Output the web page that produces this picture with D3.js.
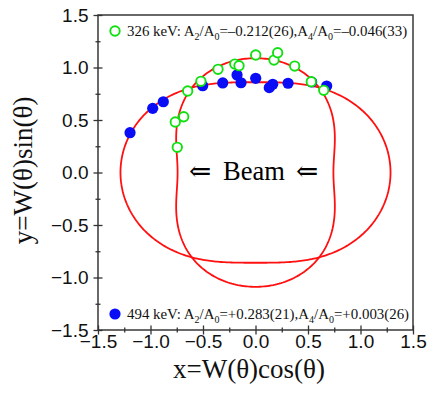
<!DOCTYPE html>
<html><head><meta charset="utf-8">
<script src="https://cdn.jsdelivr.net/npm/d3@7"></script>
<style>body{margin:0;background:#fff}</style>
</head><body><svg id="chart" width="429" height="399"></svg>
<script>
// Axis ticks
const majorTicks = [-1.5, -1.0, -0.5, 0.0, 0.5, 1.0, 1.5];
const minorTicks = [-1.25, -0.75, -0.25, 0.25, 0.75, 1.25];

// Angular-distribution fit coefficients W(θ) = 1 + A2 P2(cosθ) + A4 P4(cosθ)
const fitNames = ["326 keV", "494 keV"];
const fitA2 = [-0.212, 0.283];
const fitA4 = [-0.046, 0.003];
const fitA2Text = ["–0.212(26)", "+0.283(21)"];
const fitA4Text = ["–0.046(33)", "+0.003(26)"];

// Measured points, x = W cosθ, y = W sinθ
const pts326X = [-0.745, -0.764, -0.684, -0.646, -0.52, -0.357, -0.197, -0.157, 0.002, 0.176, 0.211, 0.373, 0.531, 0.65];
const pts326Y = [0.24, 0.481, 0.531, 0.776, 0.868, 0.983, 1.033, 1.017, 1.119, 1.071, 1.141, 1.014, 0.865, 0.783];
const pts494X = [-1.195, -0.979, -0.878, -0.503, -0.312, -0.176, -0.138, 0.002, 0.131, 0.164, 0.31, 0.535, 0.678];
const pts494Y = [0.379, 0.611, 0.674, 0.826, 0.853, 0.929, 0.855, 0.897, 0.808, 0.84, 0.85, 0.862, 0.824];

const svg = d3.select("#chart");
const L = 98, R = 413, T = 15, B = 330;
const x = d3.scaleLinear().domain([-1.5, 1.5]).range([L, R]);
const y = d3.scaleLinear().domain([-1.5, 1.5]).range([B, T]);

const sansFont = "'Liberation Sans', Arial, sans-serif";
const serifFont = "'Liberation Serif', 'DejaVu Serif', serif";

// Frame
svg.append("rect").attr("x", L).attr("y", T).attr("width", R - L).attr("height", B - T)
  .attr("fill", "none").attr("stroke", "#444").attr("stroke-width", 1.6);

// Axes with ticks crossing the frame line
const fmt = d3.format(".1f");
const gx = svg.append("g").attr("transform", `translate(0,${B})`)
  .call(d3.axisBottom(x).tickValues(majorTicks).tickFormat(fmt).tickSize(4.5));
const gxm = svg.append("g").attr("transform", `translate(0,${B})`)
  .call(d3.axisBottom(x).tickValues(minorTicks).tickFormat("").tickSize(2.5));
const gy = svg.append("g").attr("transform", `translate(${L},0)`)
  .call(d3.axisLeft(y).tickValues(majorTicks).tickFormat(fmt).tickSize(4.5).tickPadding(5));
const gym = svg.append("g").attr("transform", `translate(${L},0)`)
  .call(d3.axisLeft(y).tickValues(minorTicks).tickFormat("").tickSize(2.5));

[gx, gxm, gy, gym].forEach(g => {
  g.select(".domain").remove();
  g.selectAll(".tick line").attr("stroke", "#333").attr("stroke-width", 1.3);
  g.selectAll("text").attr("font-family", sansFont).attr("font-size", 19).attr("fill", "#111");
});
gx.selectAll("text").attr("y", 18).attr("dy", 0);
gx.selectAll(".tick line").attr("y1", -4.5);
gxm.selectAll(".tick line").attr("y1", -2.5);
gy.selectAll(".tick line").attr("x1", 4.5);
gym.selectAll(".tick line").attr("x1", 2.5);

// Fit curves
const thetas = d3.range(0, 361, 1).map(d => d * Math.PI / 180);
const P2 = c => (3 * c * c - 1) / 2;
const P4 = c => (35 * c ** 4 - 30 * c * c + 3) / 8;
const line = d3.line().x(d => x(d[0])).y(d => y(d[1]));
fitA2.forEach((a2, i) => {
  const a4 = fitA4[i];
  const pts = thetas.map(t => {
    const c = Math.cos(t);
    const w = 1 + a2 * P2(c) + a4 * P4(c);
    return [w * Math.cos(t), w * Math.sin(t)];
  });
  svg.append("path").attr("d", line(pts)).attr("fill", "none")
    .attr("stroke", "#ff1010").attr("stroke-width", 1.8);
});

// Beam label
const beamG = svg.append("g").attr("font-family", serifFont).attr("font-size", 26.5).attr("fill", "#000");
beamG.append("text").attr("x", 200).attr("y", 179.5).attr("text-anchor", "middle").text("⇐");
beamG.append("text").attr("x", 223).attr("y", 179.5).text("Beam");
beamG.append("text").attr("x", 307).attr("y", 179.5).attr("text-anchor", "middle").text("⇐");

// Data points
const blue = "#0a0cf5", green = "#10e010";
svg.append("g").selectAll("circle").data(d3.range(pts494X.length)).join("circle")
  .attr("cx", i => x(pts494X[i])).attr("cy", i => y(pts494Y[i])).attr("r", 5.6)
  .attr("fill", blue);
svg.append("g").selectAll("circle").data(d3.range(pts326X.length)).join("circle")
  .attr("cx", i => x(pts326X[i])).attr("cy", i => y(pts326Y[i])).attr("r", 4.7)
  .attr("fill", "#fff").attr("stroke", green).attr("stroke-width", 1.9);

// Legend entries
function legendText(i, ty) {
  const t = svg.append("text").attr("x", 127).attr("y", ty)
    .attr("font-family", serifFont).attr("font-size", 14.9).attr("fill", "#111");
  t.append("tspan").text(fitNames[i] + ": A");
  t.append("tspan").attr("font-size", 10).attr("dy", 4).text("2");
  t.append("tspan").attr("dy", -4).text("/A");
  t.append("tspan").attr("font-size", 10).attr("dy", 4).text("0");
  t.append("tspan").attr("dy", -4).text("=" + fitA2Text[i] + ",A");
  t.append("tspan").attr("font-size", 10).attr("dy", 4).text("4");
  t.append("tspan").attr("dy", -4).text("/A");
  t.append("tspan").attr("font-size", 10).attr("dy", 4).text("0");
  t.append("tspan").attr("dy", -4).text("=" + fitA4Text[i]);
}
svg.append("circle").attr("cx", 115).attr("cy", 31).attr("r", 4.7)
  .attr("fill", "#fff").attr("stroke", green).attr("stroke-width", 1.9);
legendText(0, 36);
svg.append("circle").attr("cx", 115).attr("cy", 314).attr("r", 5.6).attr("fill", blue);
legendText(1, 319);

// Axis titles
svg.append("text").attr("x", 249).attr("y", 378).attr("text-anchor", "middle")
  .attr("font-family", serifFont).attr("font-size", 27).attr("fill", "#111")
  .text("x=W(θ)cos(θ)");
svg.append("text").attr("transform", `translate(32,${y(0.02)}) rotate(-90)`)
  .attr("text-anchor", "middle")
  .attr("font-family", serifFont).attr("font-size", 27).attr("fill", "#111")
  .text("y=W(θ)sin(θ)");
</script></body></html>
